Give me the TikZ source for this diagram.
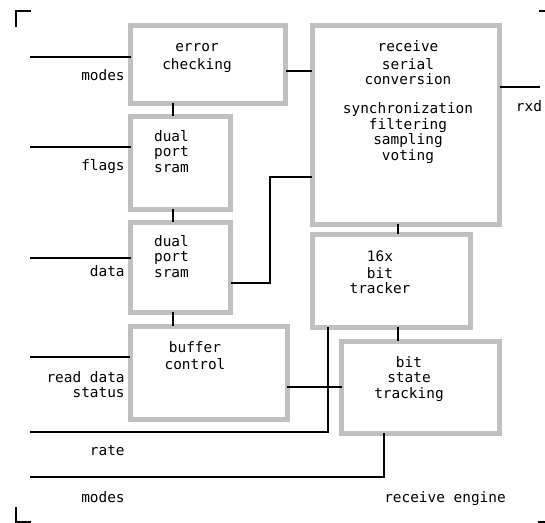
\documentclass[tikz,border=0pt]{standalone}
\usepackage{fontspec}
\usepackage{tikz}
\usetikzlibrary{positioning, calc}
\newfontfamily\diagfont{DejaVu Sans Mono}
\definecolor{BoxGray}{HTML}{C0C0C0}
\tikzset{
    blk/.style={draw=BoxGray, line width=0.1cm, inner sep=0pt, outer sep=0pt, fill=white},
    wire/.style={draw=black, line width=0.03cm},
    txt/.style={font=\diagfont\fontsize{8.2}{8.8}\selectfont, align=center, anchor=north, inner sep=0pt},
    lbl/.style={font=\diagfont\fontsize{8.2}{8.8}\selectfont, inner sep=0pt},
    crop/.style={draw=black, line width=0.04cm}
}

\begin{document}
\begin{tikzpicture}
    \useasboundingbox (0,0) rectangle (10.9,10.46);

    % Corner marks
    \draw[crop] (0.62,10.24) -- (0.32,10.24) -- (0.32,9.92);
    \draw[crop] (0.32,0.32) -- (0.32,0.02) -- (0.62,0.02);
    \draw[crop] (10.78,10.24) -- (10.9,10.24);
    \draw[crop] (10.76,0.02) -- (10.9,0.02);

    % Left column of blocks
    \node[blk, minimum width=3.10cm, minimum height=1.56cm] (err) at (4.16,9.17) {};
    \node[blk, minimum width=2.00cm, minimum height=1.86cm] (sram1) at (3.61,7.20) {};
    \node[blk, minimum width=2.00cm, minimum height=1.80cm] (sram2) at (3.61,5.11) {};
    \node[blk, minimum width=3.14cm, minimum height=1.86cm] (buf) at (4.18,3.00) {};

    % Right column of blocks
    \node[blk, minimum width=3.74cm, minimum height=3.98cm] (recv) at (8.12,7.96) {};
    \node[blk, minimum width=3.16cm, minimum height=1.86cm] (trk) at (7.83,4.84) {};
    \node[blk, minimum width=3.16cm, minimum height=1.84cm] (bst) at (8.41,2.71) {};

    % Block texts
    \node[txt] (errtxt) at (3.94,9.65) {\strut error\\checking};
    \node[txt] (sram1txt) at (3.43,7.86) {\strut dual\\port\\sram};
    \node[txt] (sram2txt) at (3.43,5.76) {\strut dual\\port\\sram};
    \node[txt] (buftxt) at (3.90,3.64) {\strut buffer\\control};
    \node[txt] (recvtxt) at (8.16,9.65) {\strut receive\\serial\\conversion\\[7.7pt]synchronization\\filtering\\sampling\\voting};
    \node[txt] (trktxt) at (7.60,5.46) {\strut 16x\\bit\\tracker};
    \node[txt] (bsttxt) at (8.18,3.34) {\strut bit\\state\\tracking};

    % Free ends of the wires
    \coordinate (inModes) at (0.6,9.32);
    \coordinate (inFlags) at (0.6,7.52);
    \coordinate (inData) at (0.6,5.30);
    \coordinate (inRead) at (0.6,3.32);
    \coordinate (inRate) at (0.6,1.82);
    \coordinate (inModesB) at (0.6,0.92);
    \coordinate (outRxd) at (10.8,8.72);
    \coordinate (bus) at (3.46,0);

    % Inputs
    \draw[wire] (inModes) -- (inModes -| err.west);
    \draw[wire] (inFlags) -- (inFlags -| sram1.west);
    \draw[wire] (inData) -- (inData -| sram2.west);
    \draw[wire] (inRead) -- (inRead -| buf.west);
    \draw[wire] (inRate) -| ([xshift=-1.27cm]trk.south);
    \draw[wire] (inModesB) -| ([xshift=-0.73cm]bst.south);

    % Links between blocks
    \draw[wire] (err.south -| bus) -- (sram1.north -| bus);
    \draw[wire] (sram1.south -| bus) -- (sram2.north -| bus);
    \draw[wire] (sram2.south -| bus) -- (buf.north -| bus);
    \draw[wire] ([yshift=-0.13cm]err.east) -- ([yshift=-0.13cm]err.east -| recv.west);
    \draw[wire] ([yshift=-0.31cm]sram2.east) -- ++(0.79,0) |- ([yshift=-1.04cm]recv.west);
    \draw[wire] ([xshift=-0.16cm]recv.south) -- ([xshift=-0.16cm]recv.south |- trk.north);
    \draw[wire] ([xshift=0.13cm]trk.south) -- ([xshift=0.13cm]trk.south |- bst.north);
    \draw[wire] ([yshift=-0.28cm]buf.east) -- ([yshift=-0.28cm]buf.east -| bst.west);
    \draw[wire] ([yshift=0.76cm]recv.east) -- (outRxd);

    % Signal names
    \node[lbl, anchor=base east] (lModes) at (2.50,8.84) {modes};
    \node[lbl, anchor=base east] (lFlags) at (2.50,7.04) {flags};
    \node[lbl, anchor=base east] (lData) at (2.50,4.92) {data};
    \node[lbl, anchor=north east, align=right] (lRead) at (2.50,3.04) {\strut read data\\status};
    \node[lbl, anchor=base east] (lRate) at (2.50,1.34) {rate};
    \node[lbl, anchor=base east] (lModesB) at (2.50,0.40) {modes};
    \node[lbl, anchor=base] (lRxd) at (10.58,8.22) {rxd};
    \node[lbl, anchor=base] (lEngine) at (8.90,0.40) {receive engine};
\end{tikzpicture}
\end{document}
